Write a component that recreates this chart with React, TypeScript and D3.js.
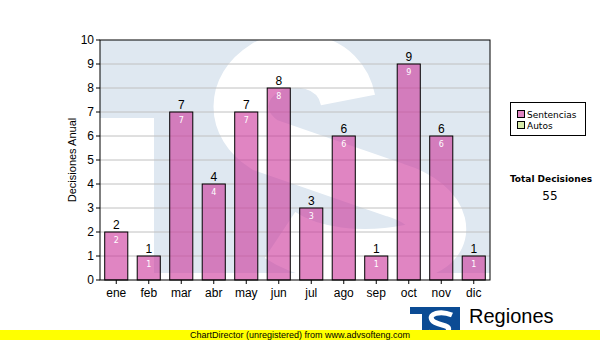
import React from 'react';
import * as d3 from 'd3';

const months = ['ene', 'feb', 'mar', 'abr', 'may', 'jun', 'jul', 'ago', 'sep', 'oct', 'nov', 'dic'];
const sentencias = [2, 1, 7, 4, 7, 8, 3, 6, 1, 9, 6, 1];
const yTicks = [0, 1, 2, 3, 4, 5, 6, 7, 8, 9, 10];
const legendItems = [
  { name: 'Sentencias', color: '#e085c2' },
  { name: 'Autos', color: '#d8ecaa' },
];
const totalLabel = 'Total Decisiones';
const total = 55;

const W = 600;
const H = 340;
const m = { left: 100, right: 490, top: 40, bottom: 280 };
const font = 'Arial, "Liberation Sans", sans-serif';
const font2 = 'Verdana, "DejaVu Sans", sans-serif';

export default function App() {
  const x = d3.scaleBand().domain(months).range([m.left, m.right]).paddingInner(0.29).paddingOuter(0.145);
  const y = d3.scaleLinear().domain([0, 10]).range([m.bottom, m.top]);

  return (
    <svg width={W} height={H} style={{ position: 'absolute', left: 0, top: 0, background: '#fff' }}>
      <defs>
        <clipPath id="plot">
          <rect x={m.left} y={m.top} width={m.right - m.left} height={m.bottom - m.top} />
        </clipPath>
      </defs>

      {/* watermark logo */}
      <g clipPath="url(#plot)">
        <rect x={m.left} y={m.top} width={m.right - m.left} height={233} fill="#dfe8f1" />
        <rect x={m.left} y={118} width={54} height={170} fill="#fff" />
        <path
          d="M 348 100 C 340 58, 290 53, 265 68 C 233 88, 233 125, 265 145 L 395 190 C 445 205, 455 245, 410 252 C 360 262, 310 255, 280 235"
          fill="none"
          stroke="#fff"
          strokeWidth={55}
        />
      </g>

      {/* grid */}
      {yTicks.slice(1, -1).map((t) => (
        <line key={t} x1={m.left} x2={m.right} y1={y(t)} y2={y(t)} stroke="#c0c0c0" strokeWidth={1} />
      ))}

      {/* bars */}
      {sentencias.map((v, i) => {
        const bx = x(months[i])!;
        const bw = x.bandwidth();
        return (
          <g key={i}>
            <rect x={bx} y={y(v)} width={bw} height={y(0) - y(v)} fill="#cc3399" fillOpacity={0.6} stroke="#000" strokeWidth={1} />
            <text x={bx + bw / 2} y={y(v) - 3} textAnchor="middle" fontFamily={font} fontSize={12} fill="#000">
              {v}
            </text>
            <text x={bx + bw / 2} y={y(v) + 11} textAnchor="middle" fontFamily={font2} fontSize={8} fill="#fff">
              {v}
            </text>
          </g>
        );
      })}

      {/* frame */}
      <rect x={m.left} y={m.top} width={m.right - m.left} height={m.bottom - m.top} fill="none" stroke="#000" strokeWidth={1} />

      {/* y axis */}
      {yTicks.map((t) => (
        <g key={t}>
          <line x1={m.left - 4} x2={m.left} y1={y(t)} y2={y(t)} stroke="#000" />
          <text x={m.left - 6} y={y(t) + 4} textAnchor="end" fontFamily={font} fontSize={12} fill="#000">
            {t}
          </text>
        </g>
      ))}
      <text
        transform={`translate(76, ${(m.top + m.bottom) / 2}) rotate(-90)`}
        textAnchor="middle"
        fontFamily={font}
        fontSize={11}
        fill="#000"
      >
        Decisiones Anual
      </text>

      {/* x axis */}
      {months.map((mo) => {
        const cx = x(mo)! + x.bandwidth() / 2;
        return (
          <g key={mo}>
            <line x1={cx} x2={cx} y1={m.bottom} y2={m.bottom + 4} stroke="#000" />
            <text x={cx} y={m.bottom + 17} textAnchor="middle" fontFamily={font} fontSize={12} fill="#000">
              {mo}
            </text>
          </g>
        );
      })}

      {/* legend */}
      <rect x={510.5} y={102.5} width={75} height={33} fill="#fff" stroke="#000" />
      {legendItems.map((it, i) => (
        <g key={it.name}>
          <rect x={517.5} y={110.5 + i * 11} width={7} height={7} fill={it.color} stroke="#000" />
          <text x={527} y={117.5 + i * 11} fontFamily={font2} fontSize={9} fill="#000">
            {it.name}
          </text>
        </g>
      ))}

      <text x={551} y={182} textAnchor="middle" fontFamily={font2} fontSize={9} fontWeight="bold" fill="#000">
        {totalLabel}
      </text>
      <text x={550} y={200} textAnchor="middle" fontFamily={font2} fontSize={12} fill="#000">
        {total}
      </text>

      {/* bottom logo */}
      <rect x={410} y={307} width={50} height={30} fill="#0b4b94" />
      <rect x={410} y={314} width={12} height={24} fill="#fff" />
      <path d="M 452 315 C 440 310, 428 314, 432 320 C 436 326, 452 324, 448 331 C 444 336, 432 334, 428 332" fill="none" stroke="#fff" strokeWidth={5} />
      <text x={469} y={323} fontFamily={font} fontSize={20} fill="#000">
        Regiones
      </text>
      <text x={466} y={337.5} fontFamily={font} fontSize={10} fill="#000">
        Tribunal Supremo de Justicia
      </text>

      {/* footer */}
      <rect x={0} y={330} width={W} height={10} fill="#ffff00" />
      <text x={190} y={338} fontFamily={font} fontSize={9} fill="#000">
        ChartDirector (unregistered) from www.advsofteng.com
      </text>
    </svg>
  );
}
